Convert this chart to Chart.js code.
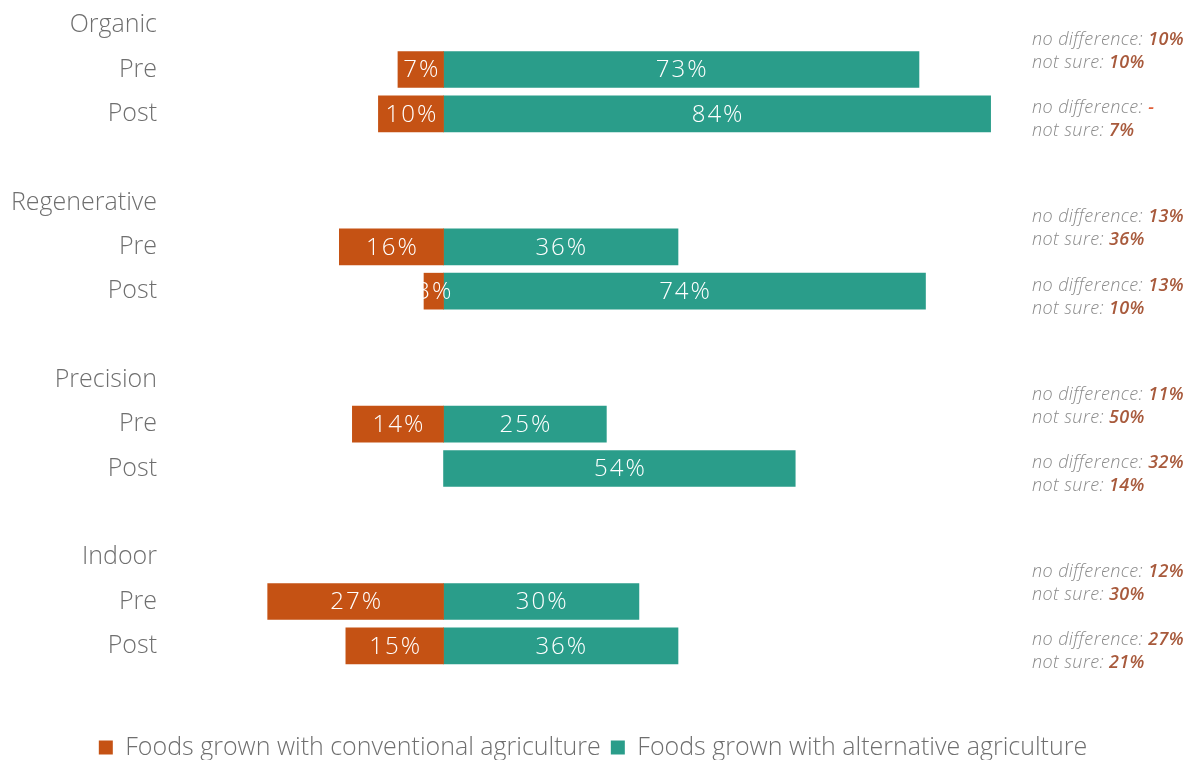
<!DOCTYPE html>
<html>
<head>
<meta charset="utf-8">
<script src="https://cdn.jsdelivr.net/npm/chart.js@4.4.1/dist/chart.umd.min.js"></script>
<style>
  html, body { margin: 0; padding: 0; background: #fff; }
  #wrap { width: 1186px; height: 760px; }
</style>
</head>
<body>
<div id="wrap"><canvas id="farmChart"></canvas></div>
<script>
// Rows: group header, Pre, Post, spacer
const rowLabels = [
  "Organic", "Pre", "Post", "",
  "Regenerative", "Pre", "Post", "",
  "Precision", "Pre", "Post", "",
  "Indoor", "Pre", "Post"
];

// % preferring foods grown with conventional agriculture
const conventional = [null, 7, 10, null, null, 16, 3, null, null, 14, null, null, null, 27, 15];
// % preferring foods grown with alternative agriculture
const alternative = [null, 73, 84, null, null, 36, 74, null, null, 25, 54, null, null, 30, 36];

// side notes per row
const noDifference = [null, "10%", "-", null, null, "13%", "13%", null, null, "11%", "32%", null, null, "12%", "27%"];
const notSure = [null, "10%", "7%", null, null, "36%", "10%", null, null, "50%", "14%", null, null, "30%", "21%"];

const colors = {
  conventional: "#c55214",
  alternative: "#2a9d8a",
  label: "#6f6f6f",
  note: "#8a8a8a",
  noteValue: "#a85a3c",
  dash: "#e0603a",
};

const FONT = "'Open Sans', Lato, sans-serif";

// white % labels centred on each bar
const barValueLabels = {
  id: "barValueLabels",
  afterDatasetsDraw(chart) {
    const ctx = chart.ctx;
    ctx.save();
    ctx.font = "300 24px " + FONT;
    ctx.letterSpacing = "2px";
    ctx.fillStyle = "#ffffff";
    ctx.textAlign = "center";
    ctx.textBaseline = "middle";
    chart.data.datasets.forEach((ds, di) => {
      chart.getDatasetMeta(di).data.forEach((bar, i) => {
        const v = ds.data[i];
        if (v === null || v === undefined) return;
        const cx = (bar.x + bar.base) / 2 + 1;
        ctx.fillText(Math.abs(v) + "%", cx, bar.y + 1);
      });
    });
    ctx.restore();
  },
};

// "no difference / not sure" notes on the right
const sideNotes = {
  id: "sideNotes",
  afterDraw(chart) {
    const ctx = chart.ctx;
    const yScale = chart.scales.y;
    const x0 = chart.chartArea.right - 154;
    ctx.save();
    ctx.textBaseline = "middle";
    ctx.textAlign = "left";
    ctx.letterSpacing = "0.4px";
    rowLabels.forEach((lab, i) => {
      if (!noDifference[i]) return;
      const yc = yScale.getPixelForValue(i) + (lab === "Pre" ? -18 : 6);
      const lines = [["no difference: ", noDifference[i]], ["not sure: ", notSure[i]]];
      lines.forEach(([txt, val], li) => {
        const y = yc - 11.5 + li * 23;
        ctx.font = "italic 300 18px " + FONT;
        ctx.fillStyle = colors.note;
        ctx.fillText(txt, x0, y);
        const w = ctx.measureText(txt).width;
        ctx.font = "italic 600 18px " + FONT;
        ctx.fillStyle = val === "-" ? colors.dash : colors.noteValue;
        ctx.fillText(val, x0 + w, y);
      });
    });
    ctx.restore();
  },
};

new Chart(document.getElementById("farmChart").getContext("2d"), {
  type: "bar",
  data: {
    labels: rowLabels,
    datasets: [
      {
        label: "Foods grown with conventional agriculture",
        data: conventional.map((v) => (v === null ? null : -v)),
        backgroundColor: colors.conventional,
        borderWidth: 0,
      },
      {
        label: "Foods grown with alternative agriculture",
        data: alternative,
        backgroundColor: colors.alternative,
        borderWidth: 0,
      },
    ],
  },
  options: {
    indexAxis: "y",
    responsive: true,
    maintainAspectRatio: false,
    animation: false,
    layout: { padding: { top: 3, right: 0, left: 0, bottom: -10 } },
    datasets: { bar: { barThickness: 36 } },
    plugins: {
      tooltip: { enabled: false },
      legend: {
        display: true,
        position: "bottom",
        labels: {
          color: colors.label,
          font: { family: FONT, size: 25, weight: "300" },
          boxWidth: 14,
          boxHeight: 14,
          padding: 10,
        },
      },
    },
    scales: {
      x: {
        stacked: true,
        min: -42,
        max: 114,
        grid: { display: false },
        border: { display: false },
        ticks: { display: false },
        afterFit: (scale) => { scale.height = 57; },
      },
      y: {
        stacked: true,
        grid: { display: false, drawTicks: false },
        border: { display: false },
        ticks: {
          color: colors.label,
          font: { family: FONT, size: 25, weight: "300" },
          padding: 13,
        },
        afterFit: (scale) => {
          scale.width = 170;
          scale.paddingTop = 0;
          scale.paddingBottom = 0;
        },
      },
    },
  },
  plugins: [barValueLabels, sideNotes],
});
</script>
</body>
</html>
